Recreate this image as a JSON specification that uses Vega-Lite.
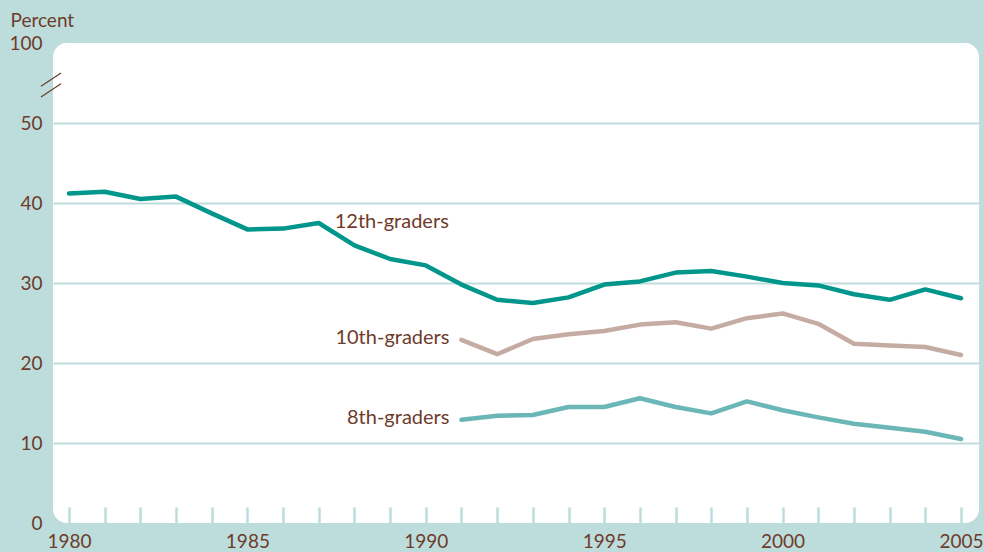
{
  "$schema": "https://vega.github.io/schema/vega-lite/v6.json",
  "width": 926,
  "height": 480,
  "autosize": {"type": "none"},
  "padding": {"left": 53, "top": 43, "right": 5, "bottom": 29},
  "background": "#bddddc",
  "config": {
    "view": {"fill": "white", "stroke": null, "cornerRadius": 14},
    "font": "Lato"
  },
  "data": {"values": [
    {"year": 1980, "series": "12th-graders", "pct": 41.2},
    {"year": 1981, "series": "12th-graders", "pct": 41.4},
    {"year": 1982, "series": "12th-graders", "pct": 40.5},
    {"year": 1983, "series": "12th-graders", "pct": 40.8},
    {"year": 1984, "series": "12th-graders", "pct": 38.7},
    {"year": 1985, "series": "12th-graders", "pct": 36.7},
    {"year": 1986, "series": "12th-graders", "pct": 36.8},
    {"year": 1987, "series": "12th-graders", "pct": 37.5},
    {"year": 1988, "series": "12th-graders", "pct": 34.7},
    {"year": 1989, "series": "12th-graders", "pct": 33.0},
    {"year": 1990, "series": "12th-graders", "pct": 32.2},
    {"year": 1991, "series": "12th-graders", "pct": 29.8},
    {"year": 1992, "series": "12th-graders", "pct": 27.9},
    {"year": 1993, "series": "12th-graders", "pct": 27.5},
    {"year": 1994, "series": "12th-graders", "pct": 28.2},
    {"year": 1995, "series": "12th-graders", "pct": 29.8},
    {"year": 1996, "series": "12th-graders", "pct": 30.2},
    {"year": 1997, "series": "12th-graders", "pct": 31.3},
    {"year": 1998, "series": "12th-graders", "pct": 31.5},
    {"year": 1999, "series": "12th-graders", "pct": 30.8},
    {"year": 2000, "series": "12th-graders", "pct": 30.0},
    {"year": 2001, "series": "12th-graders", "pct": 29.7},
    {"year": 2002, "series": "12th-graders", "pct": 28.6},
    {"year": 2003, "series": "12th-graders", "pct": 27.9},
    {"year": 2004, "series": "12th-graders", "pct": 29.2},
    {"year": 2005, "series": "12th-graders", "pct": 28.1},
    {"year": 1991, "series": "10th-graders", "pct": 22.9},
    {"year": 1992, "series": "10th-graders", "pct": 21.1},
    {"year": 1993, "series": "10th-graders", "pct": 23.0},
    {"year": 1994, "series": "10th-graders", "pct": 23.6},
    {"year": 1995, "series": "10th-graders", "pct": 24.0},
    {"year": 1996, "series": "10th-graders", "pct": 24.8},
    {"year": 1997, "series": "10th-graders", "pct": 25.1},
    {"year": 1998, "series": "10th-graders", "pct": 24.3},
    {"year": 1999, "series": "10th-graders", "pct": 25.6},
    {"year": 2000, "series": "10th-graders", "pct": 26.2},
    {"year": 2001, "series": "10th-graders", "pct": 24.9},
    {"year": 2002, "series": "10th-graders", "pct": 22.4},
    {"year": 2003, "series": "10th-graders", "pct": 22.2},
    {"year": 2004, "series": "10th-graders", "pct": 22.0},
    {"year": 2005, "series": "10th-graders", "pct": 21.0},
    {"year": 1991, "series": "8th-graders", "pct": 12.9},
    {"year": 1992, "series": "8th-graders", "pct": 13.4},
    {"year": 1993, "series": "8th-graders", "pct": 13.5},
    {"year": 1994, "series": "8th-graders", "pct": 14.5},
    {"year": 1995, "series": "8th-graders", "pct": 14.5},
    {"year": 1996, "series": "8th-graders", "pct": 15.6},
    {"year": 1997, "series": "8th-graders", "pct": 14.5},
    {"year": 1998, "series": "8th-graders", "pct": 13.7},
    {"year": 1999, "series": "8th-graders", "pct": 15.2},
    {"year": 2000, "series": "8th-graders", "pct": 14.1},
    {"year": 2001, "series": "8th-graders", "pct": 13.2},
    {"year": 2002, "series": "8th-graders", "pct": 12.4},
    {"year": 2003, "series": "8th-graders", "pct": 11.9},
    {"year": 2004, "series": "8th-graders", "pct": 11.4},
    {"year": 2005, "series": "8th-graders", "pct": 10.5}
  ]},
  "encoding": {
    "x": {
      "field": "year",
      "type": "quantitative",
      "scale": {"domain": [1979.552, 2005.504], "nice": false, "zero": false},
      "axis": {
        "title": null,
        "values": [1980,1981,1982,1983,1984,1985,1986,1987,1988,1989,1990,1991,1992,1993,1994,1995,1996,1997,1998,1999,2000,2001,2002,2003,2004,2005],
        "format": "d",
        "labelExpr": "datum.value % 5 == 0 ? datum.label : ''",
        "labelOverlap": false,
        "labelFlush": false,
        "grid": false,
        "domain": false,
        "ticks": true,
        "tickSize": -16,
        "tickColor": "#bddddc",
        "tickWidth": 2.5,
        "labelPadding": 25,
        "labelFontSize": 19,
        "labelColor": "#6e3b2b"
      }
    },
    "y": {
      "field": "pct",
      "type": "quantitative",
      "scale": {"domain": [0, 60], "nice": false},
      "axis": {
        "title": "Percent",
        "titleAngle": 0,
        "titleAlign": "left",
        "titleBaseline": "alphabetic",
        "titleX": -43,
        "titleY": -17,
        "titleFontSize": 19,
        "titleFontWeight": "normal",
        "titleColor": "#6e3b2b",
        "values": [0, 10, 20, 30, 40, 50, 60],
        "labelExpr": "datum.value == 60 ? '100' : datum.label",
        "ticks": false,
        "domain": false,
        "grid": true,
        "gridColor": "#bddddc",
        "gridWidth": 2,
        "gridOpacity": {"condition": {"test": "datum.value == 0 || datum.value == 60", "value": 0}, "value": 1},
        "labelPadding": 11,
        "labelFontSize": 19,
        "labelColor": "#6e3b2b"
      }
    }
  },
  "layer": [
    {
      "data": {"values": [
        {"year": 1979.215, "year2": 1979.776, "pct": 54.6, "pct2": 56.25},
        {"year": 1979.215, "year2": 1979.776, "pct": 53.25, "pct2": 54.9}
      ]},
      "mark": {"type": "rule", "color": "#6e3b2b", "strokeWidth": 1.2, "clip": false},
      "encoding": {
        "x2": {"field": "year2"},
        "y2": {"field": "pct2"}
      }
    },
    {
      "mark": {"type": "line", "strokeWidth": 4.5, "strokeCap": "round", "strokeJoin": "round"},
      "encoding": {
        "color": {
          "field": "series",
          "type": "nominal",
          "scale": {"domain": ["12th-graders", "10th-graders", "8th-graders"], "range": ["#00968b", "#c5aca2", "#6bb6b6"]},
          "legend": null
        }
      }
    },
    {
      "transform": [{"filter": "datum.series == '12th-graders' && datum.year == 1987"}],
      "mark": {"type": "text", "align": "left", "baseline": "middle", "dx": 16, "dy": -1, "fontSize": 20, "color": "#6e3b2b"},
      "encoding": {"text": {"field": "series"}}
    },
    {
      "transform": [{"filter": "datum.series != '12th-graders' && datum.year == 1991"}],
      "mark": {"type": "text", "align": "right", "baseline": "middle", "dx": -12, "dy": -2, "fontSize": 20, "color": "#6e3b2b"},
      "encoding": {"text": {"field": "series"}}
    }
  ]
}
